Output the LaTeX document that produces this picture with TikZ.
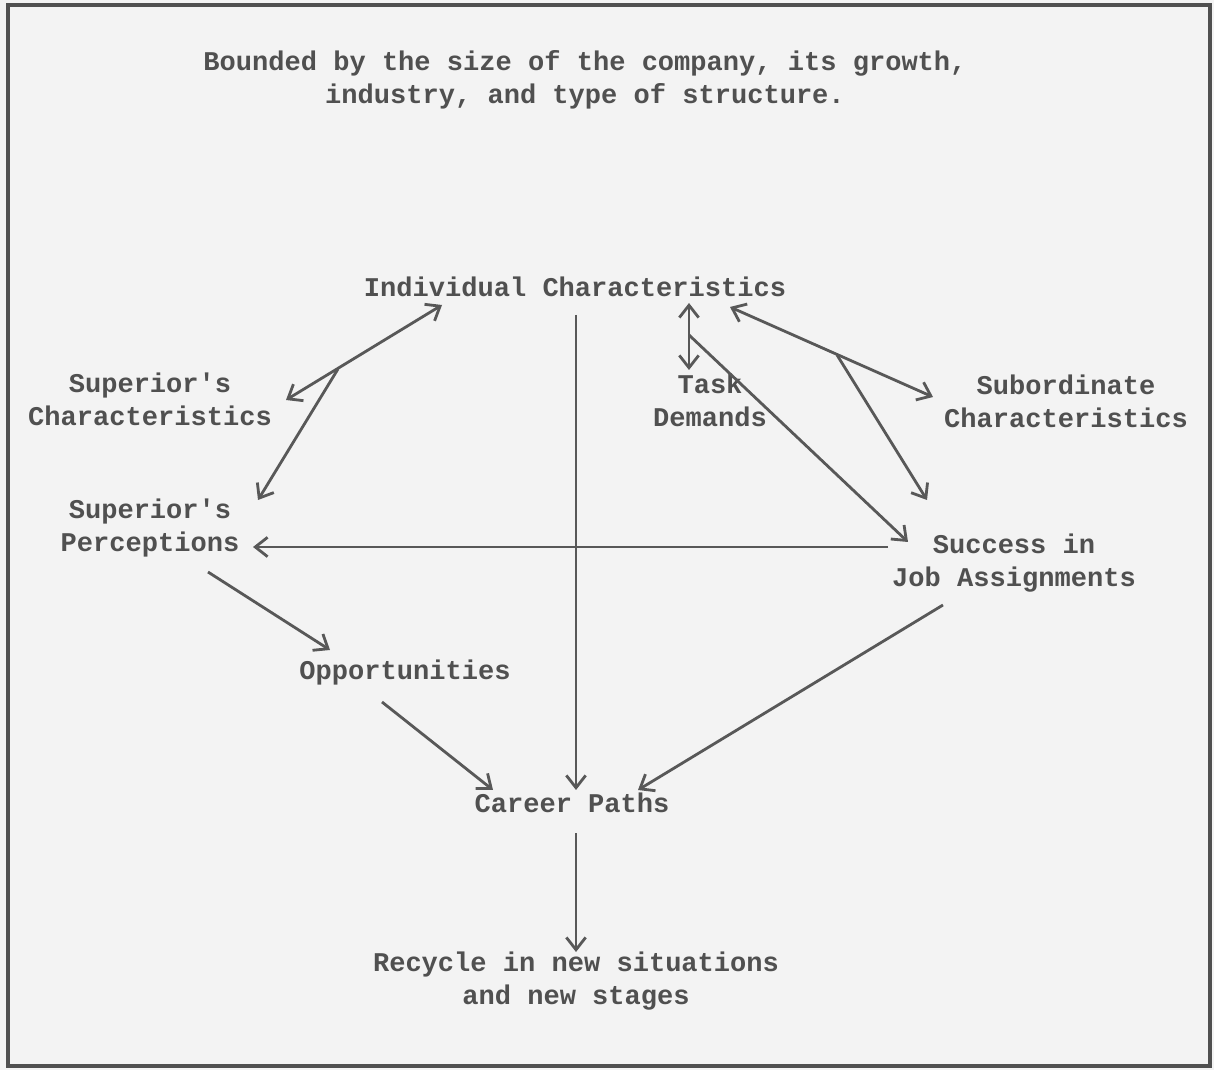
\documentclass[tikz,border=0pt]{standalone}
\usepackage{fontspec}
\setmonofont{Liberation Mono}
\usetikzlibrary{arrows.meta,calc}
\definecolor{ink}{HTML}{505050}
\definecolor{lineink}{HTML}{585858}
\definecolor{paper}{HTML}{F3F3F3}
\begin{document}
\begin{tikzpicture}[x=0.02cm,y=-0.02cm,
  lbl/.style={inner sep=0pt,align=center,text=ink,font=\ttfamily\bfseries\fontsize{15.4}{18.8}\selectfont},
  conn/.style={draw=lineink,line width=1.6pt,-{Straight Barb[length=7pt,width=11pt]}},
  dconn/.style={draw=lineink,line width=1.6pt,{Straight Barb[length=7pt,width=11pt]}-{Straight Barb[length=7pt,width=11pt]}},
  plain/.style={draw=lineink,line width=1.6pt}]
\useasboundingbox (0,0) rectangle (1214,1070);
\fill[paper] (0,0) rectangle (1214,1070);
\draw[ink,line width=1.8pt] (8,5) rectangle (1210,1066);

\node[lbl] (title) at (585,80) {Bounded by the size of the company, its growth,\\industry, and type of structure.};
\node[lbl] (ind) at (575,287) {Individual Characteristics};
\node[lbl] (supc) at (150,399) {Superior's\\Characteristics};
\node[lbl] (task) at (710,400) {Task\\Demands};
\node[lbl] (sub) at (1066,401) {Subordinate\\Characteristics};
\node[lbl] (supp) at (150,528) {Superior's\\Perceptions};
\node[lbl] (succ) at (1014,563) {Success in\\Job Assignments};
\node[lbl] (opp) at (405,673) {Opportunities};
\node[lbl] (car) at (572,803) {Career Paths};
\node[lbl] (rec) at (576,981) {Recycle in new situations\\and new stages};

\coordinate (j1) at (338,369);
\coordinate (j2) at (837,355);
\coordinate (j3) at (689,335);

% left cluster
\draw[dconn] ($(ind)+(-133,18)$) -- ($(supc)+(136,1)$);
\draw[conn] (j1) -- ($(supp)+(108,-28)$);
% vertical centre
\draw[conn] ($(ind)+(1,28)$) -- ($(car)+(4,-13)$);
% task demands
\draw[dconn] ($(ind)+(114,16)$) -- ($(task)+(-21,-30)$);
\draw[conn] (j3) -- ($(succ)+(-106,-21)$);
% subordinate
\draw[dconn] ($(ind)+(155,20)$) -- ($(sub)+(-133,-4)$);
\draw[conn] (j2) -- ($(succ)+(-87,-63)$);
% horizontal
\draw[conn] ($(succ)+(-126,-16)$) -- ($(supp)+(103,19)$);
% lower
\draw[conn] ($(supp)+(58,44)$) -- ($(opp)+(-75,-23)$);
\draw[conn] ($(opp)+(-23,29)$) -- ($(car)+(-79,-13)$);
\draw[conn] ($(succ)+(-71,42)$) -- ($(car)+(66,-13)$);
\draw[conn] ($(car)+(4,30)$) -- ($(rec)+(0,-29)$);
\end{tikzpicture}
\end{document}
